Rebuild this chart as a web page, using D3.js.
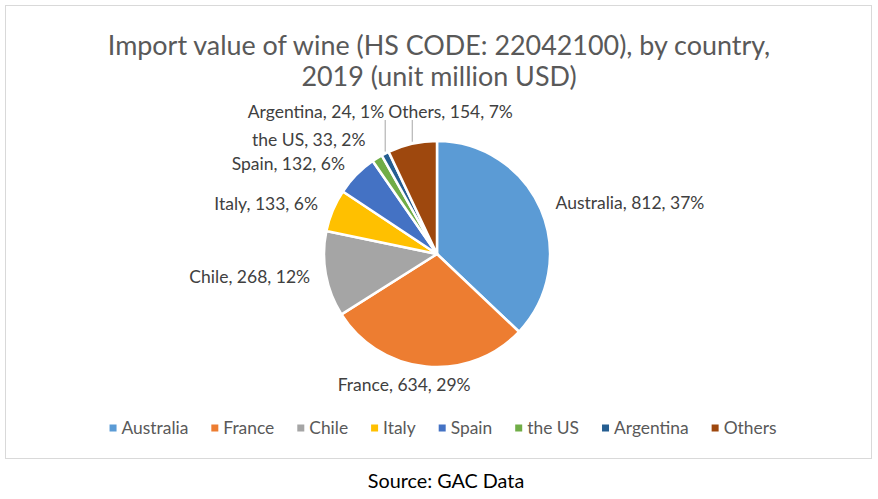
<!DOCTYPE html>
<html><head><meta charset="utf-8">
<script src="https://cdn.jsdelivr.net/npm/d3@7"></script>
<style>body{margin:0;background:#fff}svg{display:block}</style>
</head><body>
<svg id="c" width="878" height="499"></svg>
<script>
const categories = ["Australia","France","Chile","Italy","Spain","the US","Argentina","Others"];
const values = [812,634,268,133,132,33,24,154];
const percents = ["37%","29%","12%","6%","6%","2%","1%","7%"];
const colors = ["#5B9BD5","#ED7D31","#A5A5A5","#FFC000","#4472C4","#70AD47","#255E91","#9E480E"];
const titleLines = ["Import value of wine (HS CODE: 22042100), by country,","2019 (unit million USD)"];
const sourceText = "Source: GAC Data";

const FONT = "Lato, 'Open Sans', sans-serif";
const svg = d3.select("#c");
svg.append("rect").attr("x",5.5).attr("y",5.5).attr("width",866).attr("height",453)
  .attr("fill","#fff").attr("stroke","#d9d9d9").attr("stroke-width",1);

svg.selectAll("text.title").data(titleLines).join("text").attr("class","title")
  .attr("x",439).attr("y",(d,i)=>55+i*31).attr("text-anchor","middle")
  .attr("font-family",FONT).attr("font-size",26.9).attr("fill","#595959").text(d=>d);

const cx=437, cy=254, r=113;
const data = categories.map((c,i)=>({name:c,value:values[i],pct:percents[i],color:colors[i]}));
const pie = d3.pie().value(d=>d.value).sort(null);
const arcs = pie(data);
const arc = d3.arc().innerRadius(0).outerRadius(r);
const g = svg.append("g").attr("transform",`translate(${cx},${cy})`);
g.selectAll("path").data(arcs).join("path").attr("d",arc)
  .attr("fill",d=>d.data.color).attr("stroke","#fff").attr("stroke-width",2.5).attr("stroke-linejoin","round");

const mid = d=>(d.startAngle+d.endAngle)/2;
const pt = (a,rad)=>[rad*Math.sin(a), -rad*Math.cos(a)];
const lbl = d=>`${d.data.name}, ${d.data.value}, ${d.data.pct}`;
const labelG = g.append("g").attr("font-family",FONT).attr("font-size",17.5).attr("fill","#404040");

const leaderNames = ["Argentina","Others"];
const topY = 112-cy;
let argEnd = null;
arcs.forEach(d=>{
  const a = mid(d);
  if (leaderNames.includes(d.data.name)) {
    const p = pt(a, r);
    labelG.append("line").attr("x1",p[0]).attr("y1",p[1]-2).attr("x2",p[0]).attr("y2",topY+8)
      .attr("stroke","#a6a6a6").attr("stroke-width",1);
    if (d.data.name==="Argentina") {
      labelG.append("text").attr("x",p[0]-1).attr("y",topY).attr("dy","0.35em")
        .attr("text-anchor","end").text(lbl(d));
      argEnd = p[0]+2;
    } else {
      labelG.append("text").attr("x",argEnd+1).attr("y",topY).attr("dy","0.35em")
        .attr("text-anchor","start").text(lbl(d));
    }
    return;
  }
  let off = d.data.name==="the US" ? 22 : (d.data.name==="France" ? 19 : 16);
  const p = pt(a, r+off);
  let anchor = Math.sin(a) > 0.3 ? "start" : (Math.sin(a) < -0.3 ? "end" : "middle");
  let x = p[0];
  if (anchor==="middle") x -= 20;
  labelG.append("text").attr("x",x).attr("y",p[1]).attr("dy","0.35em")
    .attr("text-anchor",anchor).text(lbl(d));
});

const leg = svg.append("g").attr("font-family",FONT).attr("font-size",17.4).attr("fill","#595959");
const items = leg.selectAll("g").data(data).join("g");
items.append("rect").attr("width",7).attr("height",7).attr("y",-3.5).attr("fill",d=>d.color);
items.append("text").attr("x",12).attr("dy","0.35em").text(d=>d.name);
let widths = [];
items.each(function(){ widths.push(this.getBBox().width); });
const gap = 23;
const total = d3.sum(widths)+gap*(widths.length-1);
let xx = 443 - total/2;
items.attr("transform",(d,i)=>{ const t=`translate(${xx},428)`; xx += widths[i]+gap; return t; });

svg.append("text").attr("x",446).attr("y",481).attr("dy","0.35em").attr("text-anchor","middle")
  .attr("font-family",FONT).attr("font-size",19.8).attr("fill","#000").text(sourceText);
</script>
</body></html>
